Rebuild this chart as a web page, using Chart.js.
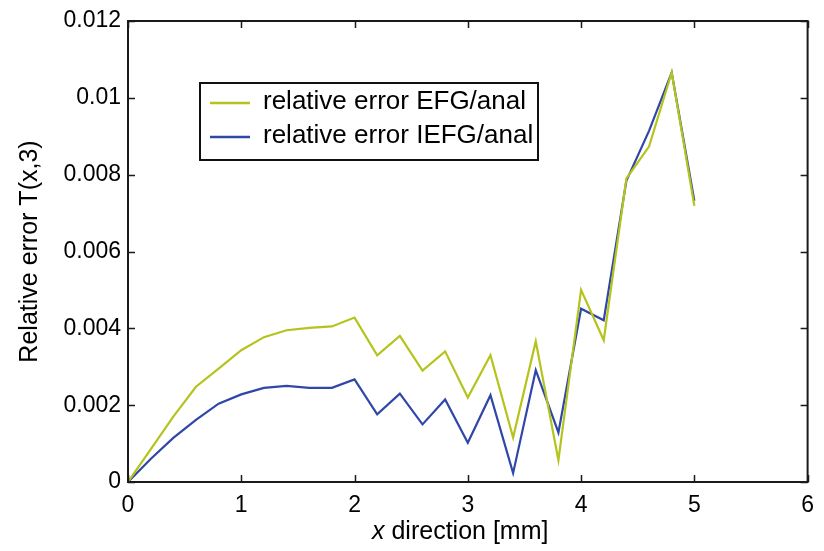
<!DOCTYPE html>
<html>
<head>
<meta charset="utf-8">
<script src="https://cdn.jsdelivr.net/npm/chart.js@4"></script>
<style>
  html, body { margin: 0; padding: 0; background: #fff; }
  #wrap { width: 824px; height: 551px; }
</style>
</head>
<body>
<div id="wrap"><canvas id="errChart" width="824" height="551"></canvas></div>
<script>
const xPos = [0, 0.2, 0.4, 0.6, 0.8, 1.0, 1.2, 1.4, 1.6, 1.8, 2.0, 2.2, 2.4, 2.6, 2.8, 3.0, 3.2, 3.4, 3.6, 3.8, 4.0, 4.2, 4.4, 4.6, 4.8, 5.0];
const efgErr = [0, 0.00085, 0.0017, 0.00248, 0.00295, 0.00343, 0.00377, 0.00395, 0.00401, 0.00405, 0.00428, 0.0033, 0.0038, 0.0029, 0.0034, 0.0022, 0.0033, 0.00116, 0.00366, 0.00057, 0.005, 0.00369, 0.0079, 0.00873, 0.01066, 0.00719];
const iefgErr = [0, 0.0006, 0.00115, 0.00162, 0.00204, 0.00228, 0.00245, 0.0025, 0.00245, 0.00245, 0.00267, 0.00176, 0.0023, 0.0015, 0.00215, 0.00102, 0.00226, 0.00023, 0.00291, 0.00129, 0.00451, 0.00421, 0.00784, 0.00914, 0.01066, 0.00732];
const seriesNames = ["relative error EFG/anal", "relative error IEFG/anal"];
const xTicks = [0, 1, 2, 3, 4, 5, 6];
const yTicks = [0, 0.002, 0.004, 0.006, 0.008, 0.01, 0.012];

const FONT = "Liberation Sans, Arial, sans-serif";
const colors = ["#b5c41c", "#2f47a8"];

function pts(ys) {
  return xPos.map((x, i) => ({ x: x, y: ys[i] }));
}

// box, inward ticks, legend and axis titles
const matlabLook = {
  id: "matlabLook",
  afterDraw(chart) {
    const ctx = chart.ctx;
    const a = chart.chartArea;
    const xs = chart.scales.x, ys = chart.scales.y;
    ctx.save();
    ctx.strokeStyle = "#1a1a1a";
    ctx.lineWidth = 2;
    ctx.strokeRect(a.left, a.top, a.right - a.left, a.bottom - a.top);
    ctx.lineWidth = 1.5;
    ctx.beginPath();
    xTicks.forEach(v => {
      const px = Math.round(xs.getPixelForValue(v)) + 0.5;
      ctx.moveTo(px, a.bottom); ctx.lineTo(px, a.bottom - 7);
      ctx.moveTo(px, a.top); ctx.lineTo(px, a.top + 7);
    });
    yTicks.forEach(v => {
      const py = Math.round(ys.getPixelForValue(v)) + 0.5;
      ctx.moveTo(a.left, py); ctx.lineTo(a.left + 7, py);
      ctx.moveTo(a.right, py); ctx.lineTo(a.right - 7, py);
    });
    ctx.stroke();

    // legend
    ctx.lineWidth = 2;
    ctx.strokeStyle = "#111";
    ctx.fillStyle = "#fff";
    ctx.fillRect(200, 83, 338, 77);
    ctx.strokeRect(200, 83, 338, 77);
    ctx.font = "26px " + FONT;
    ctx.textBaseline = "middle";
    chart.data.datasets.forEach((ds, i) => {
      const y = i === 0 ? 103 : 137;
      ctx.strokeStyle = ds.borderColor;
      ctx.lineWidth = 2.5;
      ctx.beginPath();
      ctx.moveTo(210, y); ctx.lineTo(250, y);
      ctx.stroke();
      ctx.fillStyle = "#000";
      ctx.fillText(ds.label, 263, y - 1);
    });

    // x title with italic x
    ctx.fillStyle = "#000";
    ctx.textBaseline = "middle";
    ctx.textAlign = "left";
    const start = 372;
    ctx.font = "italic 25px " + FONT;
    const w1 = ctx.measureText("x").width;
    ctx.fillText("x", start, 532);
    ctx.font = "25px " + FONT;
    ctx.fillText(" direction [mm]", start + w1, 532);

    // y title
    ctx.translate(30, (a.top + a.bottom) / 2);
    ctx.rotate(-Math.PI / 2);
    ctx.textAlign = "center";
    ctx.fillText("Relative error T(x,3)", 0, 0);
    ctx.restore();
  }
};

new Chart(document.getElementById("errChart"), {
  type: "line",
  data: {
    datasets: [
      { label: seriesNames[0], data: pts(efgErr), borderColor: colors[0], borderWidth: 2.2, pointRadius: 0, tension: 0, fill: false },
      { label: seriesNames[1], data: pts(iefgErr), borderColor: colors[1], borderWidth: 2.2, pointRadius: 0, tension: 0, fill: false }
    ]
  },
  options: {
    responsive: false,
    animation: false,
    layout: { padding: { top: 21, right: 9, left: 0, bottom: 0 } },
    plugins: { legend: { display: false }, tooltip: { enabled: false } },
    scales: {
      x: {
        type: "linear",
        min: 0, max: 6,
        afterBuildTicks: s => { s.ticks = xTicks.map(v => ({ value: v })); },
        afterFit: s => { s.height = 551 - 482; },
        grid: { display: false, drawTicks: false },
        border: { display: false },
        ticks: { color: "#000", font: { family: FONT, size: 23 }, padding: 10, maxRotation: 0 }
      },
      y: {
        min: 0, max: 0.012,
        afterBuildTicks: s => { s.ticks = yTicks.map(v => ({ value: v })); },
        afterFit: s => { s.width = 128; },
        grid: { display: false, drawTicks: false },
        border: { display: false },
        ticks: {
          color: "#000", font: { family: FONT, size: 23 }, padding: 7,
          callback: v => String(Number(v.toFixed(3)))
        }
      }
    }
  },
  plugins: [matlabLook]
});
</script>
</body>
</html>
